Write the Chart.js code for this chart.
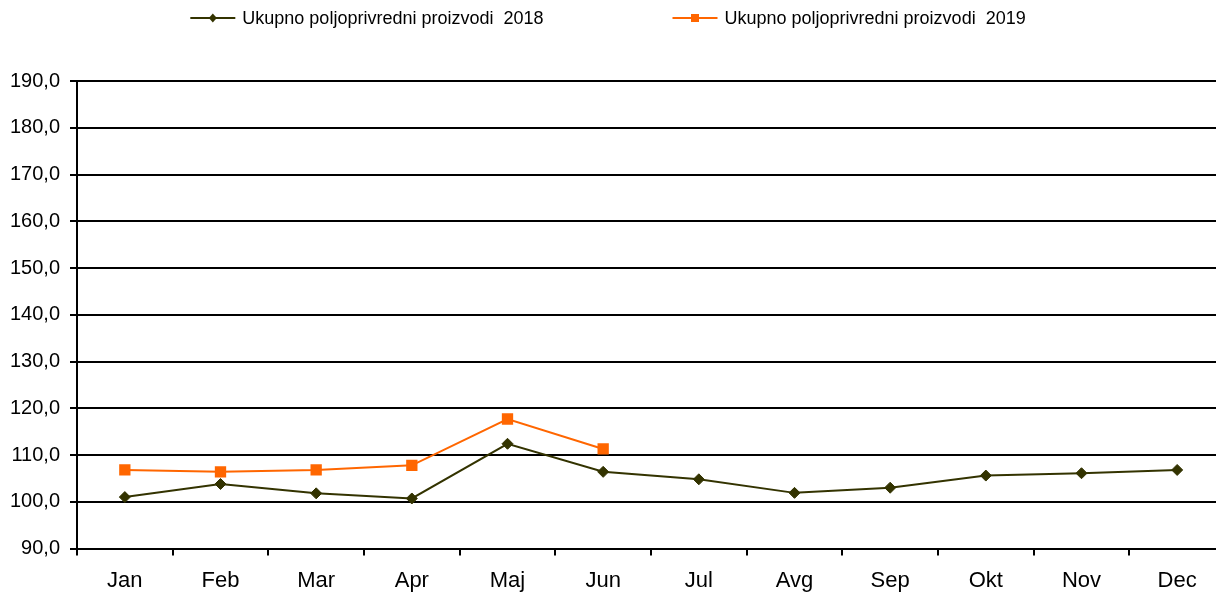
<!DOCTYPE html>
<html>
<head>
<meta charset="utf-8">
<script src="https://cdn.jsdelivr.net/npm/chart.js@4.4.1/dist/chart.umd.min.js"></script>
<style>
  html, body { margin: 0; padding: 0; background: #fff; overflow: hidden; }
  #wrap { width: 1240px; height: 592px; }
</style>
</head>
<body>
<div id="wrap"><canvas id="chart" width="1240" height="592"></canvas></div>
<script>
const months = ['Jan', 'Feb', 'Mar', 'Apr', 'Maj', 'Jun', 'Jul', 'Avg', 'Sep', 'Okt', 'Nov', 'Dec'];
const values2018 = [101.0, 103.8, 101.8, 100.7, 112.4, 106.4, 104.8, 101.9, 103.0, 105.6, 106.1, 106.8];
const values2019 = [106.8, 106.4, 106.8, 107.8, 117.7, 111.3, null, null, null, null, null, null];
const seriesLabels = ['Ukupno poljoprivredni proizvodi  2018', 'Ukupno poljoprivredni proizvodi  2019'];
const yMin = 90;
const yMax = 190;
const yStep = 10;

const FONT = '"Liberation Sans", Arial, sans-serif';
Chart.defaults.font.family = FONT;
Chart.defaults.color = '#000';

// legend drawn by hand: line + marker, two items spread wide like the original
const lineLegend = {
  id: 'lineLegend',
  afterDraw(chart) {
    const ctx = chart.ctx;
    const lineLen = 45, textGap = 7, itemGap = 129, y = 18, center = 608;
    ctx.save();
    ctx.font = '18px ' + FONT;
    const items = chart.data.datasets.map(ds => ({
      ds, w: lineLen + textGap + ctx.measureText(ds.label).width
    }));
    const total = items.reduce((s, it) => s + it.w, 0) + itemGap * (items.length - 1);
    let x = center - total / 2;
    items.forEach(({ ds, w }) => {
      ctx.strokeStyle = ds.borderColor;
      ctx.lineWidth = 2;
      ctx.beginPath();
      ctx.moveTo(x, y);
      ctx.lineTo(x + lineLen, y);
      ctx.stroke();
      const cx = x + lineLen / 2;
      ctx.fillStyle = ds.pointBackgroundColor;
      ctx.beginPath();
      if (ds.pointStyle === 'rectRot') {
        ctx.moveTo(cx, y - 4.5);
        ctx.lineTo(cx + 4, y);
        ctx.lineTo(cx, y + 4.5);
        ctx.lineTo(cx - 4, y);
        ctx.closePath();
      } else {
        ctx.rect(cx - 4, y - 4, 8, 8);
      }
      ctx.fill();
      ctx.fillStyle = '#000';
      ctx.textBaseline = 'middle';
      ctx.fillText(ds.label, x + lineLen + textGap, y + 1);
      x += w + itemGap;
    });
    ctx.restore();
  }
};

new Chart(document.getElementById('chart'), {
  type: 'line',
  data: {
    labels: months,
    datasets: [{
      label: seriesLabels[0],
      data: values2018,
      borderColor: '#333300',
      backgroundColor: '#333300',
      pointBackgroundColor: '#333300',
      pointBorderColor: '#333300',
      borderWidth: 2,
      pointStyle: 'rectRot',
      pointRadius: 5.5,
      pointBorderWidth: 1,
      tension: 0
    }, {
      label: seriesLabels[1],
      data: values2019,
      borderColor: '#FF6600',
      backgroundColor: '#FF6600',
      pointBackgroundColor: '#FF6600',
      pointBorderColor: '#FF6600',
      borderWidth: 2,
      pointStyle: 'rect',
      pointRadius: 8,
      pointBorderWidth: 0,
      tension: 0
    }]
  },
  options: {
    responsive: false,
    animation: false,
    layout: { padding: { top: 81, right: 15, bottom: 0, left: 0 } },
    plugins: {
      legend: { display: false },
      tooltip: { enabled: false }
    },
    scales: {
      x: {
        offset: true,
        grid: { offset: true, drawOnChartArea: false, drawTicks: true, tickLength: 7, color: '#000', lineWidth: 2 },
        border: { color: '#000', width: 2 },
        ticks: { color: '#000', font: { size: 22 }, padding: 12, maxRotation: 0, autoSkip: false },
        afterFit(scale) { scale.height = 43.5; }
      },
      y: {
        min: yMin,
        max: yMax,
        grid: { color: '#000', lineWidth: 2, tickLength: 7 },
        border: { color: '#000', width: 2 },
        ticks: {
          stepSize: yStep,
          color: '#000',
          font: { size: 20 },
          padding: 10,
          callback: v => v.toFixed(1).replace('.', ',')
        },
        afterFit(scale) { scale.width = 77; }
      }
    }
  },
  plugins: [lineLegend]
});
</script>
</body>
</html>
